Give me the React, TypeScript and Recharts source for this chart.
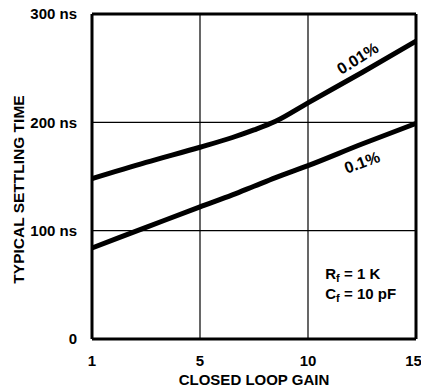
import React from 'react';
import { LineChart, Line, XAxis, YAxis, CartesianGrid, ReferenceLine, ReferenceDot } from 'recharts';

// x position on the axis: left edge is labelled gain "1", then linear 5, 10, 15
const gainPos = [0, 2.5, 5, 6.5, 7.5, 8.5, 10, 12.5, 15];
const settle001 = [148, 163, 177, 186, 193, 201, 218, 246, 275];
const settle01 = [84, 103, 122, 133, 141, 149, 160, 180, 199];

const xTicks = [0, 5, 10, 15];
const xTickLabels = ['1', '5', '10', '15'];
const yTicks = [0, 100, 200, 300];
const yTickLabels = ['0', '100 ns', '200 ns', '300 ns'];

const data = gainPos.map((g, i) => ({ g, a: settle001[i], b: settle01[i] }));

const font = '"Liberation Sans", Arial, sans-serif';

const RotLabel = (text: string, angle: number) => (props: any) => {
  const { x, y } = props.viewBox;
  return (
    <text x={x} y={y} transform={`rotate(${angle} ${x} ${y})`} textAnchor="middle" dominantBaseline="central"
      fontFamily={font} fontWeight="bold" fontSize={16} fill="#000">
      {text}
    </text>
  );
};

const NoteLabel = (props: any) => {
  const { x, y } = props.viewBox;
  return (
    <text x={x} y={y} fontFamily={font} fontWeight="bold" fontSize={15} fill="#000">
      <tspan x={x} dy={0}>R<tspan fontSize={11} dy={3}>f</tspan><tspan dy={-3}> = 1 K</tspan></tspan>
      <tspan x={x} dy={20}>C<tspan fontSize={11} dy={3}>f</tspan><tspan dy={-3}> = 10 pF</tspan></tspan>
    </text>
  );
};

const YTitle = (props: any) => {
  const { y, height } = props.viewBox;
  const cx = 18;
  const cy = y + height / 2 + 13;
  return (
    <text x={cx} y={cy} transform={`rotate(-90 ${cx} ${cy})`} textAnchor="middle" dominantBaseline="central"
      fontFamily={font} fontWeight="bold" fontSize={15.5} fill="#000">
      TYPICAL SETTLING TIME
    </text>
  );
};

const XTitle = (props: any) => {
  const { x, width } = props.viewBox;
  return (
    <text x={x + width / 2} y={379} textAnchor="middle" dominantBaseline="central"
      fontFamily={font} fontWeight="bold" fontSize={15} fill="#000">
      CLOSED LOOP GAIN
    </text>
  );
};

export default function App() {
  return (
    <div style={{ position: 'absolute', left: 0, top: 0, background: '#fff' }}>
      <LineChart width={421} height={387} data={data} margin={{ top: 14, right: 5, bottom: 0, left: 0 }}>
        <CartesianGrid stroke="#000" strokeWidth={1.2} />
        <XAxis dataKey="g" type="number" domain={[0, 15]} ticks={xTicks} height={48}
          tickFormatter={(v: number) => xTickLabels[xTicks.indexOf(v)]}
          tickLine={false} axisLine={{ stroke: '#000', strokeWidth: 3 }} tickMargin={10}
          tick={{ fill: '#000', fontFamily: font, fontWeight: 'bold', fontSize: 15 }}
          label={<XTitle />} />
        <YAxis type="number" domain={[0, 300]} ticks={yTicks} width={92}
          tickFormatter={(v: number) => yTickLabels[yTicks.indexOf(v)]}
          tickLine={false} axisLine={{ stroke: '#000', strokeWidth: 3 }} tickMargin={9}
          tick={{ fill: '#000', fontFamily: font, fontWeight: 'bold', fontSize: 15 }}
          label={<YTitle />} />
        <ReferenceLine y={300} stroke="#000" strokeWidth={3} />
        <ReferenceLine x={15} stroke="#000" strokeWidth={3} />
        <Line dataKey="a" type="monotone" stroke="#000" strokeWidth={5} dot={false} isAnimationActive={false} />
        <Line dataKey="b" type="monotone" stroke="#000" strokeWidth={5} dot={false} isAnimationActive={false} />
        <ReferenceDot x={12.3} y={259} r={0} stroke="none" label={RotLabel('0.01%', -32)} />
        <ReferenceDot x={12.5} y={163} r={0} stroke="none" label={RotLabel('0.1%', -20)} />
        <ReferenceDot x={10.8} y={55} r={0} stroke="none" label={<NoteLabel />} />
      </LineChart>
    </div>
  );
}
